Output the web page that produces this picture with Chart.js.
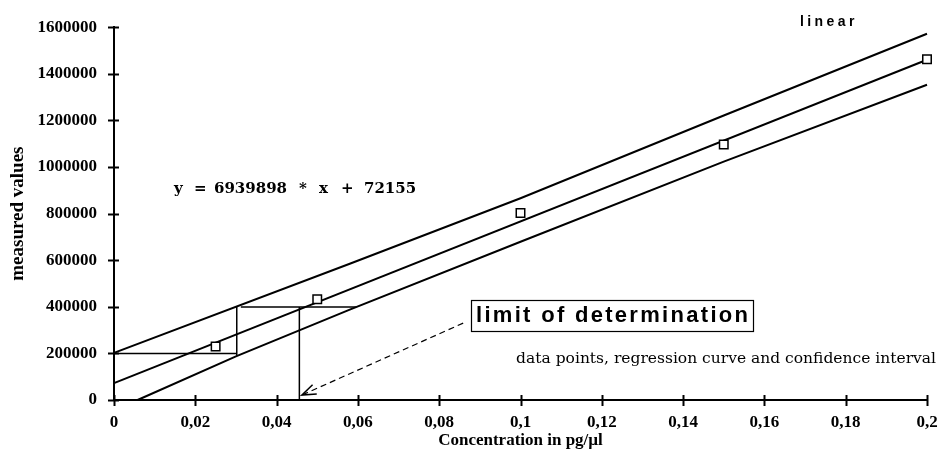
<!DOCTYPE html>
<html>
<head>
<meta charset="utf-8">
<script src="https://cdn.jsdelivr.net/npm/chart.js@4"></script>
<style>
  body { margin: 0; background: #fff; }
  #wrap { width: 946px; height: 472px; position: relative; }
</style>
</head>
<body>
<div id="wrap"><canvas id="chart1"></canvas></div>
<script>
// measured calibration points
const concentration = [0.025, 0.05, 0.1, 0.15, 0.2];
const measured = [230000, 432000, 803000, 1097000, 1462000];

// regression line y = 6939898 * x + 72155
const regX = [0, 0.2];
const regY = [72155, 1460135];

// confidence interval (upper / lower)
const upperX = [0, 0.058, 0.1, 0.15, 0.2];
const upperY = [202000, 585000, 866000, 1221000, 1572000];
const lowerX = [0.0058, 0.03, 0.058, 0.1, 0.15, 0.2];
const lowerY = [0, 187000, 388000, 679000, 1023000, 1353000];

// construction of the limit of determination
const step1X = [0, 0.0302];
const step1Y = [200000, 200000];
const step2X = [0.0302, 0.0302];
const step2Y = [190000, 399000];
const step3X = [0.0312, 0.0596];
const step3Y = [399000, 399000];
const step4X = [0.0456, 0.0456];
const step4Y = [399000, 0];
const arrowX = [0.0859, 0.0462];
const arrowY = [330000, 21000];

const xTicks = [0, 0.02, 0.04, 0.06, 0.08, 0.1, 0.12, 0.14, 0.16, 0.18, 0.2];
const yTicks = [0, 200000, 400000, 600000, 800000, 1000000, 1200000, 1400000, 1600000];

function pts(xs, ys) {
    return xs.map((x, i) => ({ x: x, y: ys[i] }));
}

function line(xs, ys, width, dash) {
    return {
        data: pts(xs, ys),
        showLine: true,
        borderColor: '#000',
        borderWidth: width,
        borderDash: dash || [],
        pointRadius: 0,
        fill: false,
        tension: 0,
        clip: false
    };
}

function spaced(ctx, text, x, y, sp) {
    for (const ch of text) {
        ctx.fillText(ch, x, y);
        x += ctx.measureText(ch).width + sp;
    }
}

const extras = {
    id: 'extras',
    afterDatasetsDraw(chart) {
        const ctx = chart.ctx;
        const xs = chart.scales.x;
        const ys = chart.scales.y;
        ctx.save();
        ctx.strokeStyle = '#000';
        ctx.lineWidth = 2;

        // cross tick marks
        ys.ticks.forEach(t => {
            const py = Math.round(ys.getPixelForValue(t.value)) + 0.5;
            ctx.beginPath();
            ctx.moveTo(xs.left - 6, py);
            ctx.lineTo(xs.left + 5, py);
            ctx.stroke();
        });
        xs.ticks.forEach(t => {
            const px = Math.round(xs.getPixelForValue(t.value)) + 0.5;
            ctx.beginPath();
            ctx.moveTo(px, ys.bottom - 5);
            ctx.lineTo(px, ys.bottom + 6);
            ctx.stroke();
        });

        // open arrow head
        const x0 = xs.getPixelForValue(arrowX[0]), y0 = ys.getPixelForValue(arrowY[0]);
        const x1 = xs.getPixelForValue(arrowX[1]), y1 = ys.getPixelForValue(arrowY[1]);
        const a = Math.atan2(y1 - y0, x1 - x0);
        ctx.lineWidth = 1.5;
        ctx.beginPath();
        ctx.moveTo(x1 - 15 * Math.cos(a - 0.35), y1 - 15 * Math.sin(a - 0.35));
        ctx.lineTo(x1, y1);
        ctx.lineTo(x1 - 15 * Math.cos(a + 0.35), y1 - 15 * Math.sin(a + 0.35));
        ctx.stroke();

        // label box
        ctx.fillStyle = '#fff';
        ctx.fillRect(471, 300, 282, 31);
        ctx.lineWidth = 1.2;
        ctx.strokeRect(471.5, 300.5, 282, 31);
        ctx.fillStyle = '#000';
        ctx.textBaseline = 'middle';
        ctx.font = 'bold 22px "Liberation Sans"';
        spaced(ctx, 'limit of determination', 476, 316, 2.3);

        ctx.font = 'bold 14px "Liberation Sans"';
        spaced(ctx, 'linear', 800, 22, 3.4);

        ctx.font = 'bold 15px "DejaVu Serif"';
        ctx.fillText('y', 174, 189);
        ctx.fillText('=', 194, 189);
        ctx.fillText('6939898', 214, 189);
        ctx.fillText('*', 299, 189);
        ctx.fillText('x', 319, 189);
        ctx.fillText('+', 341, 189);
        ctx.fillText('72155', 364, 189);

        ctx.font = '15.5px "DejaVu Serif"';
        ctx.textAlign = 'right';
        ctx.fillText('data points, regression curve and confidence interval', 936, 359);
        ctx.restore();
    }
};

const chart1 = new Chart(document.querySelector('#chart1'), {
    type: 'scatter',
    data: {
        datasets: [
            {
                data: pts(concentration, measured),
                pointStyle: 'rect',
                pointRadius: 6,
                pointBackgroundColor: '#fff',
                pointBorderColor: '#000',
                pointBorderWidth: 1.5,
                showLine: false,
                clip: false
            },
            line(regX, regY, 2),
            line(upperX, upperY, 2),
            line(lowerX, lowerY, 2),
            line(step1X, step1Y, 1.5),
            line(step2X, step2Y, 1.5),
            line(step3X, step3Y, 1.5),
            line(step4X, step4Y, 1.5),
            line(arrowX, arrowY, 1.2, [6, 4])
        ]
    },
    options: {
        responsive: true,
        maintainAspectRatio: false,
        animation: false,
        layout: { padding: { top: 22, right: 19, bottom: 0, left: 0 } },
        plugins: {
            legend: { display: false },
            tooltip: { enabled: false }
        },
        scales: {
            x: {
                type: 'linear',
                min: 0,
                max: 0.2,
                afterBuildTicks: s => { s.ticks = xTicks.map(v => ({ value: v })); },
                afterFit: s => { s.height = 72; s.paddingRight = 0; },
                grid: { display: false, drawTicks: false },
                border: { color: '#000', width: 2 },
                ticks: {
                    padding: 12,
                    color: '#000',
                    font: { family: '"Liberation Serif"', size: 17, weight: 'bold' },
                    callback: v => String(Math.round(v * 100) / 100).replace('.', ',')
                },
                title: {
                    display: true,
                    text: 'Concentration in pg/µl',
                    color: '#000',
                    font: { family: '"Liberation Serif"', size: 17, weight: 'bold' },
                    padding: { top: 0, bottom: 21 }
                }
            },
            y: {
                min: 0,
                max: 1600000,
                afterBuildTicks: s => { s.ticks = yTicks.map(v => ({ value: v })); },
                afterFit: s => { s.width = 114; },
                grid: { display: false, drawTicks: false },
                border: { color: '#000', width: 2 },
                ticks: {
                    padding: 17,
                    color: '#000',
                    font: { family: '"Liberation Serif"', size: 17, weight: 'bold' },
                    callback: v => String(v)
                },
                title: {
                    display: true,
                    text: 'measured values',
                    color: '#000',
                    font: { family: '"Liberation Serif"', size: 19, weight: 'bold' },
                    padding: { top: 7, bottom: 0 }
                }
            }
        }
    },
    plugins: [extras]
});
</script>
</body>
</html>
